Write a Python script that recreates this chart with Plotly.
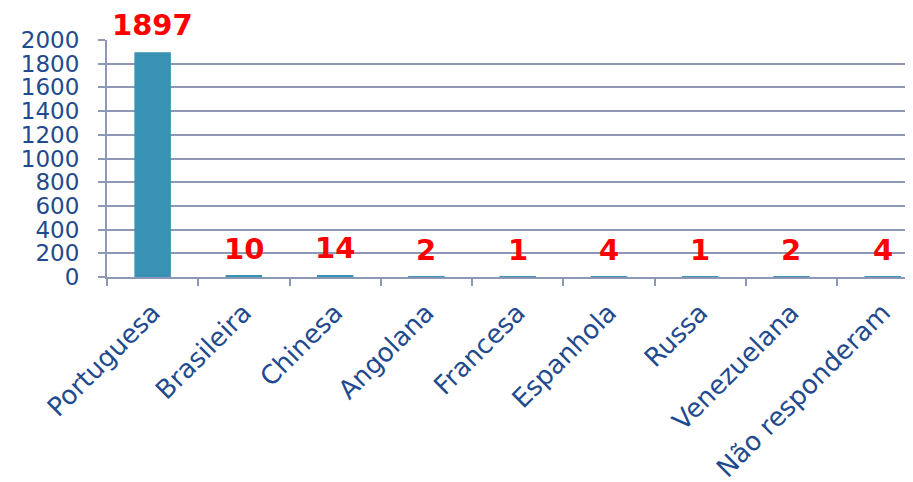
import plotly.graph_objects as go

categories = ["Portuguesa", "Brasileira", "Chinesa", "Angolana", "Francesa",
              "Espanhola", "Russa", "Venezuelana", "Não responderam"]
values = [1897, 10, 14, 2, 1, 4, 1, 2, 4]
y_ticks = list(range(0, 2001, 200))

bar_color = "#3892B4"
grid_color = "#8E98B6"
text_color = "#1F4A8E"
font_family = "DejaVu Sans, Verdana, sans-serif"

fig = go.Figure()
fig.add_trace(go.Bar(
    x=categories, y=values, marker=dict(color=bar_color, line=dict(width=0)),
    width=0.4, hoverinfo="skip",
))

for c, v in zip(categories, values):
    fig.add_annotation(
        x=c, y=v, text=str(v), showarrow=False, yanchor="bottom", yshift=8,
        font=dict(family=font_family, size=29, color="#FF0000", weight="bold"),
    )

fig.update_layout(
    width=913, height=482,
    margin=dict(l=99, r=10, t=32, b=213),
    plot_bgcolor="white", paper_bgcolor="white",
    showlegend=False,
    font=dict(family=font_family, color=text_color),
)
fig.update_xaxes(
    range=[-0.5, 8.31], showline=True, linecolor=grid_color, linewidth=2,
    ticks="outside", tickson="boundaries", ticklen=7, tickcolor=grid_color, tickwidth=2,
    tickangle=-45, tickfont=dict(size=26, color=text_color, family=font_family),
    showgrid=False, automargin=False, ticklabelstandoff=8,
)
fig.update_yaxes(
    range=[0, 2000], tickvals=y_ticks, showline=True, linecolor=grid_color, linewidth=2,
    showgrid=True, gridcolor=grid_color, gridwidth=2,
    ticks="outside", ticklen=7, tickcolor=grid_color, tickwidth=2,
    tickfont=dict(size=23, color=text_color, family=font_family),
    zeroline=False, automargin=False, ticklabelstandoff=14,
)

fig.write_html("out.html")
